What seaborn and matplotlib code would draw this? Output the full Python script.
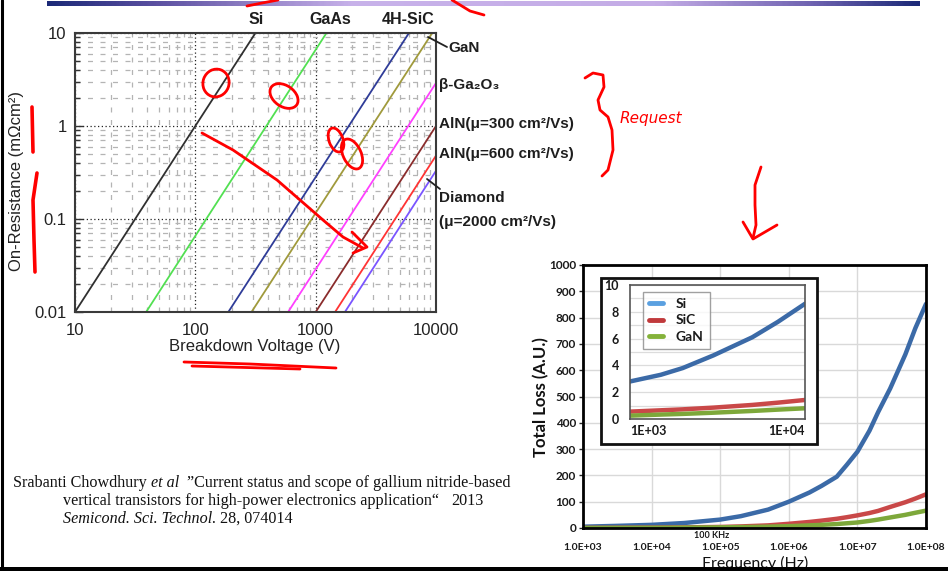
import numpy as np
import pandas as pd
import matplotlib
matplotlib.use("Agg")
import matplotlib.pyplot as plt
import seaborn as sns
from matplotlib.colors import LinearSegmentedColormap
from matplotlib.patches import Rectangle, Ellipse
from matplotlib.ticker import NullFormatter, FixedLocator, FixedFormatter

sns.set_theme(style="white")
plt.rcParams["font.family"] = ["Liberation Sans", "DejaVu Sans"]

W, H = 948, 571

# ---- Unipolar limits: specific on-resistance vs breakdown voltage (log-log lines)
materials = ["Si", "GaAs", "4H-SiC", "GaN", "β-Ga2O3", "AlN300", "AlN600", "Diamond"]
v_start = [10, 39, 188, 293, 590, 1000, 1450, 1750]
r_start = [0.01, 0.01, 0.01, 0.01, 0.01, 0.01, 0.01, 0.01]
v_end = [316, 1230, 5960, 9300, 10000, 10000, 10000, 10000]
r_end = [10, 10, 10, 10, 2.9, 1.0, 0.48, 0.33]
line_colors = ["#303030", "#52e052", "#2f3c98", "#a09a3c", "#ff40ff",
               "#8a2c2c", "#ff3434", "#7a55ff"]
v_ticks = [10, 100, 1000, 10000]
v_tick_labels = ["10", "100", "1000", "10000"]
r_ticks = [0.01, 0.1, 1, 10]
r_tick_labels = ["0.01", "0.1", "1", "10"]

# ---- Total loss vs switching frequency
freq = [1e3, 3e3, 1e4, 3e4, 1e5, 2e5, 5e5, 1e6, 2e6, 3e6, 5e6, 7e6,
        1e7, 1.5e7, 2e7, 3e7, 5e7, 7e7, 1e8]
loss_si = [5, 8, 12, 19, 32, 45, 70, 100, 135, 160, 195, 240,
           290, 370, 440, 530, 660, 760, 852]
loss_sic = [0.5, 0.9, 1.4, 2.5, 4, 6, 10, 16, 23, 28, 35, 41,
            48, 57, 65, 80, 98, 112, 128]
loss_gan = [0.3, 0.5, 0.8, 1.5, 2.5, 3.5, 5, 7, 10, 12, 15, 18,
            21, 27, 32, 40, 50, 58, 66]
f_ticks = [1e3, 1e4, 1e5, 1e6, 1e7, 1e8]
f_tick_labels = ["1.0E+03", "1.0E+04", "1.0E+05", "1.0E+06", "1.0E+07", "1.0E+08"]
loss_ticks = list(range(0, 1001, 100))

# ---- Low-frequency detail (inset)
freq_in = [1e3, 1.5e3, 2e3, 3e3, 5e3, 7e3, 1e4]
inset_si = [2.8, 3.3, 3.8, 4.75, 6.1, 7.25, 8.6]
inset_sic = [0.55, 0.65, 0.72, 0.85, 1.05, 1.22, 1.42]
inset_gan = [0.25, 0.33, 0.38, 0.47, 0.6, 0.7, 0.8]
devices = ["Si", "SiC", "GaN"]
device_colors = ["#3b6aa7", "#c94848", "#7da83a"]
legend_colors = ["#5aa0e0", "#c0393b", "#84b23a"]

fig = plt.figure(figsize=(W / 100, H / 100), dpi=100)
fig.patch.set_facecolor("white")


def fx(x):
    return x / W


def fy(y):
    return 1 - y / H


def box(x0, y0, x1, y1):
    return [fx(x0), fy(y1), fx(x1) - fx(x0), fy(y0) - fy(y1)]


# ================= left chart =================
ax1 = fig.add_axes(box(75, 33, 436, 312))
rows = []
for m, v0, r0, v1, r1 in zip(materials, v_start, r_start, v_end, r_end):
    rows.append({"material": m, "V": v0, "R": r0})
    rows.append({"material": m, "V": v1, "R": r1})
df_lim = pd.DataFrame(rows)
sns.lineplot(data=df_lim, x="V", y="R", hue="material", hue_order=materials,
             palette=dict(zip(materials, line_colors)), estimator=None,
             sort=False, legend=False, lw=1.3, ax=ax1)
ax1.set_xscale("log")
ax1.set_yscale("log")
ax1.set_xlim(10, 10000)
ax1.set_ylim(0.01, 10)
ax1.xaxis.set_major_locator(FixedLocator(v_ticks))
ax1.xaxis.set_major_formatter(FixedFormatter(v_tick_labels))
ax1.yaxis.set_major_locator(FixedLocator(r_ticks))
ax1.yaxis.set_major_formatter(FixedFormatter(r_tick_labels))
ax1.xaxis.set_minor_formatter(NullFormatter())
ax1.yaxis.set_minor_formatter(NullFormatter())
ax1.set_axisbelow(True)
ax1.grid(True, which="minor", color="#b4b4b4", ls=(0, (4, 6)), lw=0.9)
ax1.grid(True, which="major", color="#222222", ls=(0, (1, 2)), lw=0.9)
ax1.tick_params(axis="y", which="major", direction="in", length=6, width=1,
                left=True, labelsize=12, pad=6, colors="#333333")
ax1.tick_params(axis="y", which="minor", direction="in", length=3.5, width=1,
                left=True, colors="#333333")
ax1.tick_params(axis="x", which="both", length=0, labelsize=12, pad=8,
                colors="#333333")
for lab in ax1.get_xticklabels() + ax1.get_yticklabels():
    lab.set_color("#222222")
for s in ax1.spines.values():
    s.set_color("#3a3a3a")
    s.set_linewidth(1.5)
ax1.set_xlabel("")
ax1.set_ylabel("")

fig.text(fx(255), fy(346), "Breakdown Voltage (V)", ha="center", va="center",
         fontsize=12, color="#222222")
fig.text(fx(17), fy(181), "On-Resistance (mΩcm²)", ha="center", va="center",
         rotation=90, fontsize=12, color="#222222")

lab_kw = dict(fontsize=11.5, fontweight="bold", color="#1e1e1e")
fig.text(fx(256), fy(20), "Si", ha="center", va="center", **lab_kw)
fig.text(fx(330), fy(20), "GaAs", ha="center", va="center", **lab_kw)
fig.text(fx(408), fy(20), "4H-SiC", ha="center", va="center", **lab_kw)
side_kw = dict(ha="left", va="center", fontsize=11, fontweight="bold",
               color="#1e1e1e")
fig.text(fx(448), fy(48), "GaN", **side_kw)
fig.text(fx(439), fy(85), "β-Ga₂O₃", **side_kw)
fig.text(fx(439), fy(124), "AlN(μ=300 cm²/Vs)", **side_kw)
fig.text(fx(439), fy(154), "AlN(μ=600 cm²/Vs)", **side_kw)
fig.text(fx(439), fy(198), "Diamond", **side_kw)
fig.text(fx(439), fy(222), "(μ=2000 cm²/Vs)", **side_kw)

# ================= right chart =================
ax2 = fig.add_axes(box(583, 265, 926, 528))
df_loss = pd.DataFrame({
    "freq": freq * 3,
    "loss": loss_si + loss_sic + loss_gan,
    "device": ["Si"] * len(freq) + ["SiC"] * len(freq) + ["GaN"] * len(freq),
})
sns.lineplot(data=df_loss, x="freq", y="loss", hue="device", hue_order=devices,
             palette=dict(zip(devices, device_colors)), estimator=None,
             legend=False, lw=3.2, ax=ax2)
ax2.set_xscale("log")
ax2.set_xlim(1e3, 1e8)
ax2.set_ylim(0, 1000)
ax2.xaxis.set_major_locator(FixedLocator(f_ticks))
ax2.xaxis.set_major_formatter(FixedFormatter(f_tick_labels))
ax2.xaxis.set_minor_locator(FixedLocator([]))
ax2.set_yticks(loss_ticks)
ax2.set_axisbelow(True)
ax2.grid(True, which="major", color="#d9d9d9", lw=1)
ax2.tick_params(axis="x", length=0, pad=11, labelsize=7.5)
ax2.tick_params(axis="y", direction="out", length=3, width=1, left=True,
                pad=2, labelsize=8.5)
for lab in ax2.get_xticklabels() + ax2.get_yticklabels():
    lab.set_fontfamily("Lato")
    lab.set_fontweight("bold")
    lab.set_color("#1a1a1a")
for s in ax2.spines.values():
    s.set_color("black")
    s.set_linewidth(2)
ax2.set_xlabel("")
ax2.set_ylabel("")
fig.text(fx(712), fy(536), "100 KHz", ha="center", va="center", fontsize=6.5,
         fontweight="bold", family="Lato", color="#1a1a1a")
fig.text(fx(541), fy(397), "Total Loss (A.U.)", ha="center", va="center",
         rotation=90, fontsize=12, fontweight="bold", family="Lato",
         color="#111111")
fig.text(fx(755), fy(563), "Frequency (Hz)", ha="center", va="center",
         fontsize=11.5, family="Lato", color="#111111")

# inset frame and axes
fig.add_artist(Rectangle((fx(601), fy(444)), fx(817) - fx(601), fy(278) - fy(444),
                         transform=fig.transFigure, facecolor="white",
                         edgecolor="#111111", lw=2, zorder=5))
ax3 = fig.add_axes(box(630, 285, 805, 419), zorder=6)
df_in = pd.DataFrame({
    "freq": freq_in * 3,
    "loss": inset_si + inset_sic + inset_gan,
    "device": ["Si"] * len(freq_in) + ["SiC"] * len(freq_in) + ["GaN"] * len(freq_in),
})
sns.lineplot(data=df_in, x="freq", y="loss", hue="device", hue_order=devices,
             palette=dict(zip(devices, device_colors)), estimator=None,
             legend=False, lw=3.2, ax=ax3)
ax3.set_xscale("log")
ax3.set_xlim(1e3, 1e4)
ax3.set_ylim(0, 10)
ax3.set_xticks([1e3, 1e4])
ax3.set_xticklabels(["1E+03", "1E+04"])
ax3.xaxis.set_minor_locator(FixedLocator([]))
ax3.set_yticks([0, 2, 4, 6, 8, 10])
ax3.yaxis.set_minor_locator(FixedLocator([1, 3, 5, 7, 9]))
ax3.set_axisbelow(True)
ax3.grid(True, which="both", axis="y", color="#dcdcdc", lw=0.9)
ax3.tick_params(axis="x", length=0, pad=4, labelsize=9)
ax3.tick_params(axis="y", which="both", length=0, pad=8, labelsize=9)
for lab in ax3.get_xticklabels() + ax3.get_yticklabels():
    lab.set_fontfamily("Lato")
    lab.set_fontweight("bold")
    lab.set_color("#1a1a1a")
xl = ax3.get_xticklabels()
xl[0].set_horizontalalignment("left")
xl[1].set_horizontalalignment("right")
for s in ax3.spines.values():
    s.set_color("#555555")
    s.set_linewidth(1.2)
ax3.set_xlabel("")
ax3.set_ylabel("")
handles = [plt.Line2D([], [], color=c, lw=3.5) for c in legend_colors]
leg = ax3.legend(handles, devices, loc="upper left", bbox_to_anchor=(0.035, 1.0),
                 frameon=True, fancybox=False, handlelength=1.0, handletextpad=0.9,
                 borderpad=0.45, labelspacing=0.3,
                 prop={"family": "Lato", "weight": "bold", "size": 10})
leg.get_frame().set_edgecolor("#888888")
leg.get_frame().set_linewidth(1)
for t in leg.get_texts():
    t.set_color("#1a1a1a")

# ================= citation =================
renderer = fig.canvas.get_renderer()
cite_kw = dict(ha="left", va="baseline", fontsize=11.6, family="Liberation Serif",
               color="#111111")
gap = 4.0


def text_run(x, y, pieces):
    cur = x
    for s, style, extra in pieces:
        t = fig.text(fx(cur), fy(y), s, fontstyle=style, **cite_kw)
        bb = t.get_window_extent(renderer)
        cur = bb.x1 + extra


text_run(13, 487, [("Srabanti Chowdhury", "normal", gap),
                   ("et al", "italic", 2 * gap),
                   ("”Current status and scope of gallium nitride-based", "normal", 0)])
text_run(63, 505, [("vertical transistors for high-power electronics application“", "normal",
                    3 * gap),
                   ("2013", "normal", 0)])
text_run(63, 523, [("Semicond. Sci. Technol.", "italic", gap),
                   ("28, 074014", "normal", 0)])

# ================= slide decorations and pen marks =================
ov = fig.add_axes([0, 0, 1, 1], zorder=20)
ov.axis("off")
ov.patch.set_alpha(0)

bar_cmap = LinearSegmentedColormap.from_list(
    "bar", [(0, "#1c2a78"), (0.12, "#5a4fa0"), (0.35, "#c8b2ea"),
            (0.7, "#c4ace6"), (0.88, "#6e62b0"), (1, "#1c2a78")])
ov.imshow(np.linspace(0, 1, 400)[None, :], cmap=bar_cmap, aspect="auto",
          extent=[47, 920, 6.5, 2], zorder=1)
ov.set_xlim(0, W)
ov.set_ylim(H, 0)
ov.plot([2, 2], [0, H], color="black", lw=2.2)
ov.add_patch(Rectangle((0, 566.5), W, 5, color="black", lw=0))

# leader lines for the side labels
ov.plot([428, 447], [37, 47], color="#222222", lw=1.3)
ov.plot([427, 440], [179, 189], color="#222222", lw=1.3)

pen = dict(color="#ff0000", lw=2, solid_capstyle="round", solid_joinstyle="round")
for (cx, cy, w, h, a) in [(216, 83, 26, 28, 20), (284, 96, 31, 21, 35),
                          (336, 140, 14, 25, -20), (352, 154, 18, 32, -25)]:
    ov.add_patch(Ellipse((cx, cy), w, h, angle=a, fill=False, ec="#ff0000", lw=2))
ov.plot([202, 233, 277, 300, 323, 343, 363], [133, 150, 180, 200, 220, 237, 248], **pen)
ov.plot([352, 367, 353], [232, 247, 253], **pen)
ov.plot([32, 33], [107, 152], color="#ff0000", lw=2.6, solid_capstyle="round")
ov.plot([37, 33, 34, 35], [173, 200, 240, 272], color="#ff0000", lw=2.6,
        solid_capstyle="round")
ov.plot([184, 250, 336], [362, 364, 368], **pen)
ov.plot([192, 300], [366, 369], **pen)
ov.plot([247, 262, 278], [6, 3, 0], **pen)
ov.plot([452, 470, 484], [0, 11, 15], **pen)
ov.plot([585, 593, 603, 604, 598, 600, 608, 612, 613, 608, 602],
        [78, 73, 75, 87, 100, 110, 117, 130, 150, 170, 176], **pen)
ov.text(620, 118, "Request", color="#ff0000", fontsize=11, family="DejaVu Sans",
        fontstyle="italic", ha="left", va="center")
ov.plot([761, 755, 755, 756, 753], [167, 185, 205, 225, 238], **pen)
ov.plot([743, 753, 777], [222, 239, 225], **pen)

fig.savefig("out.png", dpi=100, facecolor="white")
